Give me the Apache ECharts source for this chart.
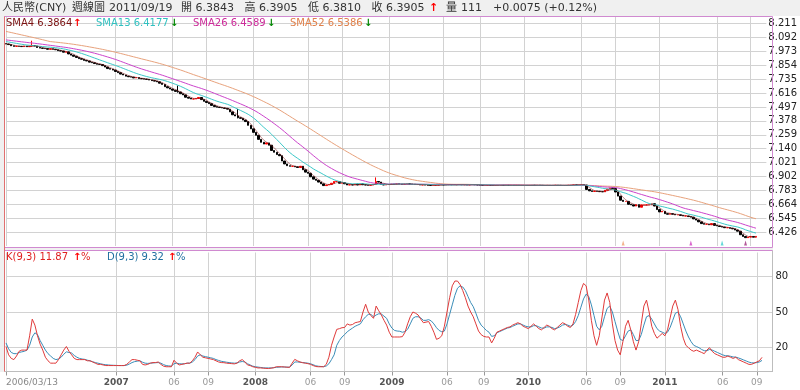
<!DOCTYPE html>
<html><head><meta charset="utf-8">
<script src="https://cdn.jsdelivr.net/npm/echarts@6/dist/echarts.min.js"></script>
<style>html,body{margin:0;padding:0;background:#ffffff}#c{width:800px;height:390px}</style>
</head><body><div id="c"></div><script>
// ---------- data ----------
const firstWeek = '2006-03-13';
const emptyWeeksAfter = 4; // the axis runs a few weeks past the last bar
// weekly closes of the 51 weeks before the first bar (needed for the moving averages)
const preCloses = [8.2765,8.2765,8.2765,8.2765,8.2765,8.2765,8.2765,8.2765,8.2765,8.2765,8.2765,8.2765,8.2765,8.2765,8.2765,8.2765,8.2765,
8.1097,8.1040,8.1020,8.1005,8.1010,8.0980,8.0990,8.0940,8.0920,8.0910,8.0900,8.0890,8.0880,8.0870,8.0850,8.0840,8.0830,8.0820,8.0815,8.0810,
8.0790,8.0750,8.0740,8.0710,8.0680,8.0660,8.0640,8.0620,8.0600,8.0540,8.0460,8.0440,8.0400,8.0380];
const closes = [
8.035,8.030,8.020,8.015,8.016,8.015,8.013,8.018,8.012,8.017,
8.022,8.018,8.005,8.000,7.998,7.996,7.990,7.994,7.990,7.986,
7.978,7.975,7.965,7.968,7.950,7.940,7.930,7.920,7.910,7.905,
7.895,7.890,7.880,7.875,7.868,7.862,7.860,7.850,7.838,7.825,
7.820,7.812,
7.800,7.790,7.778,7.770,7.760,7.755,7.752,7.745,7.748,7.740,
7.738,7.735,7.733,7.727,7.722,7.718,7.712,7.700,7.690,7.670,
7.660,7.650,7.640,7.630,7.625,7.610,7.600,7.580,7.572,7.565,
7.565,7.570,7.578,7.560,7.545,7.535,7.525,7.510,7.500,7.495,
7.492,7.488,7.485,7.478,7.455,7.430,7.420,7.405,7.400,7.385,
7.372,7.340,7.310,
7.280,7.255,7.220,7.195,7.180,7.190,7.170,7.125,7.110,7.090,
7.080,7.035,7.010,6.995,6.990,6.990,6.985,6.980,6.990,6.960,
6.940,6.930,6.900,6.880,6.870,6.855,6.840,6.825,6.830,6.835,
6.845,6.860,6.860,6.845,6.850,6.840,6.830,6.832,6.830,6.838,
6.830,6.840,6.832,6.830,6.828,6.830,6.835,6.860,6.855,6.835,
6.830,6.834,
6.835,6.838,6.836,6.840,6.838,6.835,6.838,6.840,6.838,6.836,
6.834,6.834,6.830,6.832,6.830,6.828,6.826,6.826,6.828,6.830,
6.832,6.830,6.832,6.834,6.832,6.832,6.832,6.834,6.832,6.832,
6.830,6.832,6.834,6.832,6.830,6.828,6.826,6.826,6.828,6.827,
6.826,6.826,6.827,6.828,6.827,6.828,6.827,6.828,6.827,6.828,
6.827,6.827,
6.827,6.826,6.827,6.828,6.827,6.828,6.827,6.826,6.826,6.827,
6.826,6.827,6.828,6.827,6.826,6.826,6.827,6.828,6.830,6.832,
6.831,6.832,6.834,6.830,6.792,6.780,6.775,6.778,6.776,6.773,
6.772,6.785,6.795,6.805,6.800,6.770,6.735,6.700,6.690,6.690,
6.665,6.660,6.650,6.662,6.640,6.660,6.660,6.660,6.660,6.670,
6.650,6.620,
6.600,6.605,6.585,6.580,6.585,6.580,6.575,6.575,6.570,6.565,
6.565,6.560,6.555,6.540,6.530,6.515,6.500,6.495,6.495,6.490,
6.500,6.485,6.480,6.475,6.470,6.465,6.465,6.460,6.455,6.445,
6.435,6.405,6.390,6.380,6.385,6.390,6.3843,6.3905];
// notable wicks: [week index, high, low]
const wicks = [[10,8.063,8.010],[66,7.680,7.620],[89,7.480,7.400],[142,6.895,6.835],[288,6.3905,6.3810]];
const kValues = [
21,14,11,10,13,17,18,18,18,30, 44,39,30,23,18,12,9,7,7,7, 10,14,18,21,17,14,11,10,10,10,
10,9,9,8,7,6,6,5.5,5,5, 5,5,5,5,5,5,6,8,10,10, 9.5,9,6,5.5,6,7,7.5,7.5,8,6,
4.5,4,4,4,9.5,7,5.5,6,6.5,7, 7,9,12,16.4,14,12,11.5,11,10.5,10, 9,8,7.5,7.4,7,6.8,6.6,6.4,7,9,
10,8,5.5,5,4,3.5,3,3,2.8,2.6, 2.5,2.8,3.2,4,4,4,3.8,3.6,3.5,7, 10.2,9,8,7.4,7,6.6,6,5,4.2,4,
4,4,6,12,22,29,35.4,36,36.8,37, 40,39,39.5,41,41.5,42,50,56.5,50,47, 44.7,55,51,47.5,43,39,33,29,29,29,
29,29.3,33,40,46,50,49,47.5,44,41, 41.5,42,38,33,27,28,30,38,50,62, 72,76,76,73,68,62,55,50,46,40,
34,31,29.5,29,29,24,28,33,34,35, 36,37,37.5,39,40,41,40,38,37,36, 38,40,38,36,35,37,39,38,36,35,
37,39,41,40,38,37,40,48,58,68, 74,72,60,43,30,22,30,45,60,66, 58,40,26,18,14,25,38,43,35,25,
18,25,40,55,60,50,38,32,28,30, 32,30,35,45,55,60,52,38,28,22, 20,18,17,18,17,16,15,18,20,17,
15,14,13,12,12,13,12,11,12,10, 9,8,7,6,6,7,8,9,11.87];
const dValues = [
24,19,16,15,15,16,16.5,17,18,22, 29,32.5,31,26,22,18,15,13,11,10, 10.5,12,14.5,16.5,16,15.5,13.5,12,11,10.5,
10.2,9.5,9,8.2,7.5,7,6.5,6,5.7,5.5, 5.3,5.2,5.1,5,5,5,5.3,6.3,7.5,8.3, 8.7,9,7.8,7,6.8,7,7.2,7.4,7.5,7,
5.8,5,4.7,4.5,6.5,7,6.5,6.4,6.5,7, 7,8,10,13,14,13,12.5,12,11.5,11, 10,9.3,8.6,8.2,7.8,7.5,7.2,7,7.2,8,
8.4,8,6.5,5.5,4.5,4,3.7,3.4,3.1,3, 3,3,3.2,3.5,3.7,3.8,3.8,3.7,3.6,5.5, 8,8,7.8,7.5,7.3,7,6.5,5.7,4.8,4.4,
4.2,4.1,4.6,6.5,10,14,22,26,29,31, 33.4,35,36.5,38,39,40,43.5,46,48,48, 46,47.5,48.5,48.3,46.5,44.7,40,36.5,34.5,34,
33.8,33,33.5,35.5,40,44.7,46,46,45,43, 43,43.6,42.5,40,36.8,34.5,33.4,34,40,48, 56,64,70,72,71,68,63,58,54.5,49,
43,39,36.8,34.5,33,29.5,30,32.5,33.5,34.5, 35.5,36.5,37,38,39,40,40,39,38,37.5, 37.5,38.5,38.5,37.5,36.5,36.5,37.5,37.5,37,36,
36.5,37.5,39,39.5,39,38,39,42,47,54, 61,65,63,56,47,38,35,38,46,53, 55,50,42,34,27,26,30,34,35,31,
26,26,31,39,46,47,44,40,36,34, 33,32,33,37,43,49,50,46,40,34, 29,25,22,21,20,18.5,17.5,17.5,18.5,18,
17,16,15,14,13.3,13.2,12.8,12.2,12.1,11.4, 10.6,9.7,8.8,7.9,7.3,7.2,7.5,8,9.32];
const signalWeeks = [237, 263, 275, 284];
const signalColors = ['#f0a070', '#d040c0', '#40d0d0', '#a03080'];
const priceTicks = [8.211,8.092,7.973,7.854,7.735,7.616,7.497,7.378,7.259,7.140,7.021,6.902,6.783,6.664,6.545,6.426];
const kdTicks = [20, 50, 80];

// ---------- derived ----------
const dates = [];
const t0 = Date.UTC(2006, 2, 13);
for (let i = 0; i < closes.length + emptyWeeksAfter; i++) dates.push(new Date(t0 + i * 7 * 864e5).toISOString().slice(0, 10));
const tickSet = new Set([0]);
for (let i = 1; i < dates.length; i++) {
  const m = +dates[i].slice(5, 7), pm = +dates[i - 1].slice(5, 7), y = +dates[i].slice(0, 4);
  if (m !== pm && (m === 1 || m === 6 || m === 9) && y >= 2007) tickSet.add(i);
}
const tickList = Array.from(tickSet);
const isTick = (i) => tickSet.has(i);
const allCloses = preCloses.concat(closes);
function sma(n) {
  const off = preCloses.length;
  return closes.map((_, i) => { let s = 0; for (let k = 0; k < n; k++) s += allCloses[off + i - k]; return +(s / n).toFixed(4); });
}
const wickMap = {}; wicks.forEach(w => wickMap[w[0]] = w);
const candles = closes.map((c, i) => {
  const o = i === 0 ? preCloses[preCloses.length - 1] : closes[i - 1];
  let hi = Math.max(o, c), lo = Math.min(o, c);
  if (wickMap[i]) { hi = wickMap[i][1]; lo = wickMap[i][2]; }
  return [o, c, lo, hi];
});

// ---------- chart ----------
const chart = echarts.init(document.getElementById('c'), null, {renderer: 'canvas'});
const F = '"DejaVu Sans", "Noto Sans CJK TC", sans-serif';
function T(x, y, text, fill, font) {
  return {type: 'text', x: x, y: y, z: 100, silent: true,
    style: {text: text, fill: fill, font: font, verticalAlign: 'middle'}};
}
function R(x, y, w, h) { return {type: 'rect', z: 40, silent: true, shape: {x: x, y: y, width: w, height: h}, style: {fill: '#f0f0f0'}}; }
const H = '11px ' + F, L = '10px ' + F, A = 'bold 10px ' + F;
const graphics = [
  R(0, 0, 800, 16), R(0, 16, 4, 356), R(4, 248, 769, 2),
  {type: 'rect', z: 50, silent: true, shape: {x: 4.5, y: 16.5, width: 768, height: 231}, style: {fill: null, stroke: '#d08ad0', lineWidth: 1}},
  {type: 'rect', z: 50, silent: true, shape: {x: 4.5, y: 250.5, width: 768, height: 121}, style: {fill: null, stroke: '#bdbdbd', lineWidth: 1}},
  {type: 'line', z: 51, silent: true, shape: {x1: 4.5, y1: 250.5, x2: 772.5, y2: 250.5}, style: {stroke: '#d08ad0', lineWidth: 1}},
  {type: 'line', z: 51, silent: true, shape: {x1: 4.5, y1: 16.5, x2: 4.5, y2: 371.5}, style: {stroke: '#e07070', lineWidth: 1}},
  T(2, 8, '人民幣(CNY)', '#333', H), T(72, 8, '週線圖', '#333', H), T(109, 8, '2011/09/19', '#333', H),
  T(181, 8, '開', '#333', H), T(195.5, 8, '6.3843', '#333', H),
  T(244.5, 8, '高', '#333', H), T(259, 8, '6.3905', '#333', H),
  T(308, 8, '低', '#333', H), T(322.5, 8, '6.3810', '#333', H),
  T(371.5, 8, '收', '#333', H), T(386, 8, '6.3905', '#333', H), T(429, 8, '↑', '#ff0000', 'bold 11px ' + F),
  T(446, 8, '量', '#333', H), T(461, 8, '111', '#333', H),
  T(493, 8, '+0.0075 (+0.12%)', '#333', H),
  T(6, 23, 'SMA4 6.3864', '#7a1010', L), T(73, 23, '↑', '#ff0000', A),
  T(96, 23, 'SMA13 6.4177', '#30c0c0', L), T(170, 23, '↓', '#008800', A),
  T(193, 23, 'SMA26 6.4589', '#cc2a99', L), T(267, 23, '↓', '#008800', A),
  T(290, 23, 'SMA52 6.5386', '#e0804a', L), T(364, 23, '↓', '#008800', A),
  T(6, 257, 'K(9,3) 11.87', '#e02020', L), T(73, 257, '↑', '#ff0000', A), T(81, 257, '%', '#e02020', L),
  T(107, 257, 'D(9,3) 9.32', '#1f6fa0', L), T(168, 257, '↑', '#ff0000', A), T(176, 257, '%', '#1f6fa0', L)
];
const GL = {color: '#d2d2d2', width: 1, type: 'solid'};
const option = {
  animation: false,
  backgroundColor: '#ffffff',
  grid: [
    {left: 6, top: 16, width: 766.5, height: 230},
    {left: 6, top: 252.5, width: 766.5, height: 119}
  ],
  xAxis: [
    {type: 'category', gridIndex: 0, data: dates, boundaryGap: false,
      axisLine: {show: false}, axisTick: {show: false}, axisLabel: {show: false},
      splitLine: {show: true, interval: isTick, lineStyle: GL}},
    {type: 'category', gridIndex: 1, data: dates, boundaryGap: false,
      axisLine: {show: true, lineStyle: {color: '#b4b4b4'}},
      axisTick: {show: true, interval: isTick, length: 4, lineStyle: {color: '#999'}},
      axisLabel: {show: true, interval: isTick, margin: 7, hideOverlap: false,
        formatter: function (v, i) {
          if (i === 0) return '{f|' + v.replace(/-/g, '/') + '}';
          if (v.slice(5, 7) === '01') return '{y|' + v.slice(0, 4) + '}';
          return '{m|' + v.slice(5, 7) + '}';
        },
        rich: {
          f: {color: '#888', fontFamily: F, fontSize: 9, padding: [0, 0, 0, 52]},
          y: {color: '#555', fontFamily: F, fontSize: 9, fontWeight: 'bold'},
          m: {color: '#999', fontFamily: F, fontSize: 9}
        }},
      splitLine: {show: false}}
  ],
  yAxis: [
    {type: 'value', gridIndex: 0, position: 'right', min: 6.3086, max: 8.2744, scale: true,
      axisLine: {show: false}, axisTick: {show: false, customValues: priceTicks},
      axisLabel: {customValues: priceTicks, margin: 2, color: '#222', fontFamily: F, fontSize: 10,
        formatter: v => v.toFixed(3)},
      splitLine: {show: true, lineStyle: GL}},
    {type: 'value', gridIndex: 1, position: 'right', min: 0, max: 100,
      axisLine: {show: false}, axisTick: {show: false, customValues: kdTicks},
      axisLabel: {customValues: kdTicks, margin: 3, color: '#222', fontFamily: F, fontSize: 10},
      splitLine: {show: false}}
  ],
  series: [
    {type: 'lines', coordinateSystem: 'cartesian2d', xAxisIndex: 1, yAxisIndex: 1, z: 1, silent: true,
      lineStyle: {color: '#d2d2d2', width: 1, opacity: 1, curveness: 0},
      data: kdTicks.map(v => ({coords: [[0, v], [dates.length - 1, v]]}))
        .concat(tickList.map(i => ({coords: [[i, 0], [i, 100]]})))},
    {type: 'line', name: 'SMA52', xAxisIndex: 0, yAxisIndex: 0, data: sma(52), symbol: 'none', lineStyle: {color: '#e8a27c', width: 1}},
    {type: 'line', name: 'SMA26', xAxisIndex: 0, yAxisIndex: 0, data: sma(26), symbol: 'none', lineStyle: {color: '#cc44cc', width: 1}},
    {type: 'line', name: 'SMA13', xAxisIndex: 0, yAxisIndex: 0, data: sma(13), symbol: 'none', lineStyle: {color: '#3cc8c8', width: 1}},
    {type: 'line', name: 'SMA4', xAxisIndex: 0, yAxisIndex: 0, data: sma(4), symbol: 'none', lineStyle: {color: '#7a1010', width: 1, opacity: 0.5}},
    {type: 'candlestick', xAxisIndex: 0, yAxisIndex: 0, data: candles, barWidth: 2,
      itemStyle: {color: '#ff0000', color0: '#000000', borderColor: '#ff0000', borderColor0: '#000000', borderWidth: 1}},
    {type: 'scatter', xAxisIndex: 0, yAxisIndex: 0, symbol: 'triangle', symbolSize: [3, 5], symbolOffset: [0, -3],
      data: signalWeeks.map((w, k) => ({value: [w, 6.3086], itemStyle: {color: signalColors[k]}}))},
    {type: 'line', name: 'D', xAxisIndex: 1, yAxisIndex: 1, data: dValues, symbol: 'none', lineStyle: {color: '#3a8db8', width: 1}},
    {type: 'line', name: 'K', xAxisIndex: 1, yAxisIndex: 1, data: kValues, symbol: 'none', lineStyle: {color: '#e03a3a', width: 1}}
  ],
  graphic: graphics
};
chart.setOption(option);
</script></body></html>
